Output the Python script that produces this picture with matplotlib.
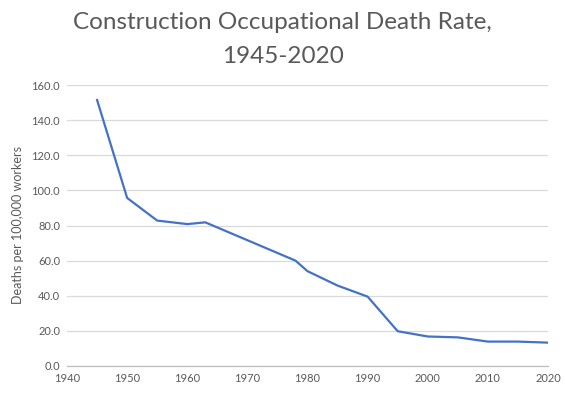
import matplotlib.pyplot as plt
import numpy as np

years = [1945, 1950, 1955, 1960, 1963, 1978, 1980, 1985, 1990, 1995, 2000, 2005, 2010, 2015, 2020]
rates = [151.5, 95.7, 82.8, 80.8, 81.8, 60.0, 54.0, 45.8, 39.5, 19.8, 16.8, 16.3, 13.9, 13.9, 13.3]

plt.rcParams['font.family'] = ['Lato', 'DejaVu Sans']
grey = '#595959'

fig = plt.figure(figsize=(5.65, 3.97), dpi=100)
ax = fig.add_axes([67/565, 1 - 366/397, (548-67)/565, (366-85)/397])

ax.plot(years, rates, color='#4472C4', linewidth=1.6)

ax.set_xlim(1940, 2020)
ax.set_ylim(0, 160)
ax.set_xticks(np.arange(1940, 2021, 10))
ax.set_yticks(np.arange(0, 161, 20))
ax.set_yticklabels([f'{v:.1f}' for v in np.arange(0, 161, 20)])
ax.tick_params(axis='both', length=0, labelsize=8, colors=grey, pad=5)
ax.grid(axis='y', color='#d9d9d9', linewidth=0.9)
ax.set_axisbelow(True)
for s in ['top', 'right', 'left']:
    ax.spines[s].set_visible(False)
ax.spines['bottom'].set_color('#bfbfbf')
ax.spines['bottom'].set_linewidth(0.9)

ax.set_ylabel('Deaths per 100,000 workers', fontsize=9, color=grey, labelpad=5)

fig.suptitle('Construction Occupational Death Rate,\n1945-2020', fontsize=17.5,
             color=grey, y=1 - 12/397, linespacing=1.75)

fig.savefig('out.png', dpi=100)
